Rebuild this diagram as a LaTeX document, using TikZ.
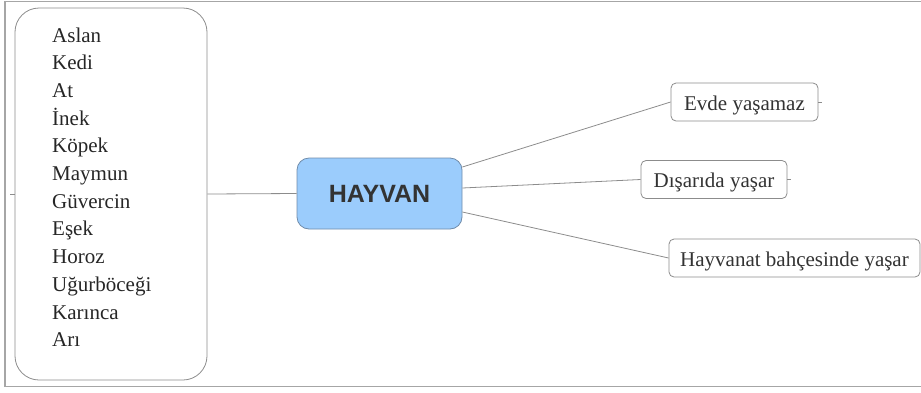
\documentclass[tikz,border=0pt]{standalone}
\usepackage{fontspec}
\setmainfont{Liberation Serif}
\newfontfamily\serifnames{Liberation Serif}
\newfontfamily\headfont{Liberation Sans}
\usepackage{tikz}

\definecolor{hayvanblue}{RGB}{155,204,252}
\definecolor{hayvanedge}{RGB}{112,140,170}
\definecolor{linegray}{RGB}{140,140,140}
\definecolor{textgray}{RGB}{51,51,51}

\begin{document}
\begin{tikzpicture}[x=1pt,y=-1pt,
    leaf/.style={draw=linegray, line width=0.8pt, rounded corners=5pt, fill=white,
      minimum height=38pt, text height=16pt, text depth=0pt,
      font=\serifnames\fontsize{21}{25}\selectfont, text=textgray},
    link/.style={linegray, line width=0.8pt}]

    \useasboundingbox (0,0) rectangle (921,392);

    % Outer frame (runs off the right side)
    \draw[gray!70, line width=1.2pt] (930,1.5) -| (5,386.5) -- (930,386.5);

    % Animal list
    \node[draw=linegray, line width=0.8pt, rounded corners=24pt,
      minimum width=192pt, minimum height=372pt] (list) at (111,194) {};
    \foreach \name [count=\i] in {Aslan,Kedi,At,İnek,Köpek,Maymun,Güvercin,Eşek,Horoz,Uğurböceği,Karınca,Arı}
      \node[anchor=base west, inner sep=0pt, font=\serifnames\fontsize{21}{25}\selectfont, text=black!85]
        (animal\i) at (52,{42+27.7*(\i-1)}) {\name};

    % Central node
    \node[fill=hayvanblue, draw=hayvanedge, line width=0.8pt, rounded corners=12pt,
      minimum width=165pt, minimum height=71pt,
      font=\headfont\bfseries\fontsize{25}{30}\selectfont, text=textgray] (hayvan) at (379.5,193.5) {HAYVAN};

    % Branches
    \node[leaf, minimum width=147pt] (evde) at (744.5,102) {Evde yaşamaz};
    \node[leaf, minimum width=146pt] (disarida) at (714,179.5) {Dışarıda yaşar};
    \node[leaf, minimum width=251pt] (bahce) at (794.5,258) {Hayvanat bahçesinde yaşar};

    \draw[link] (list.east) -- (hayvan.west);
    \draw[link] ([yshift=26.5pt]hayvan.east) -- (evde.west);
    \draw[link] ([yshift=5.5pt]hayvan.east) -- (disarida.west);
    \draw[link] ([yshift=-18.5pt]hayvan.east) -- (bahce.west);

    % Short stubs
    \coordinate (stubl) at ([xshift=-5pt]list.west);
    \coordinate (stube) at ([xshift=4pt]evde.east);
    \coordinate (stubd) at ([xshift=4pt]disarida.east);
    \draw[link] (list.west) -- (stubl);
    \draw[link] (evde.east) -- (stube);
    \draw[link] (disarida.east) -- (stubd);

\end{tikzpicture}
\end{document}
